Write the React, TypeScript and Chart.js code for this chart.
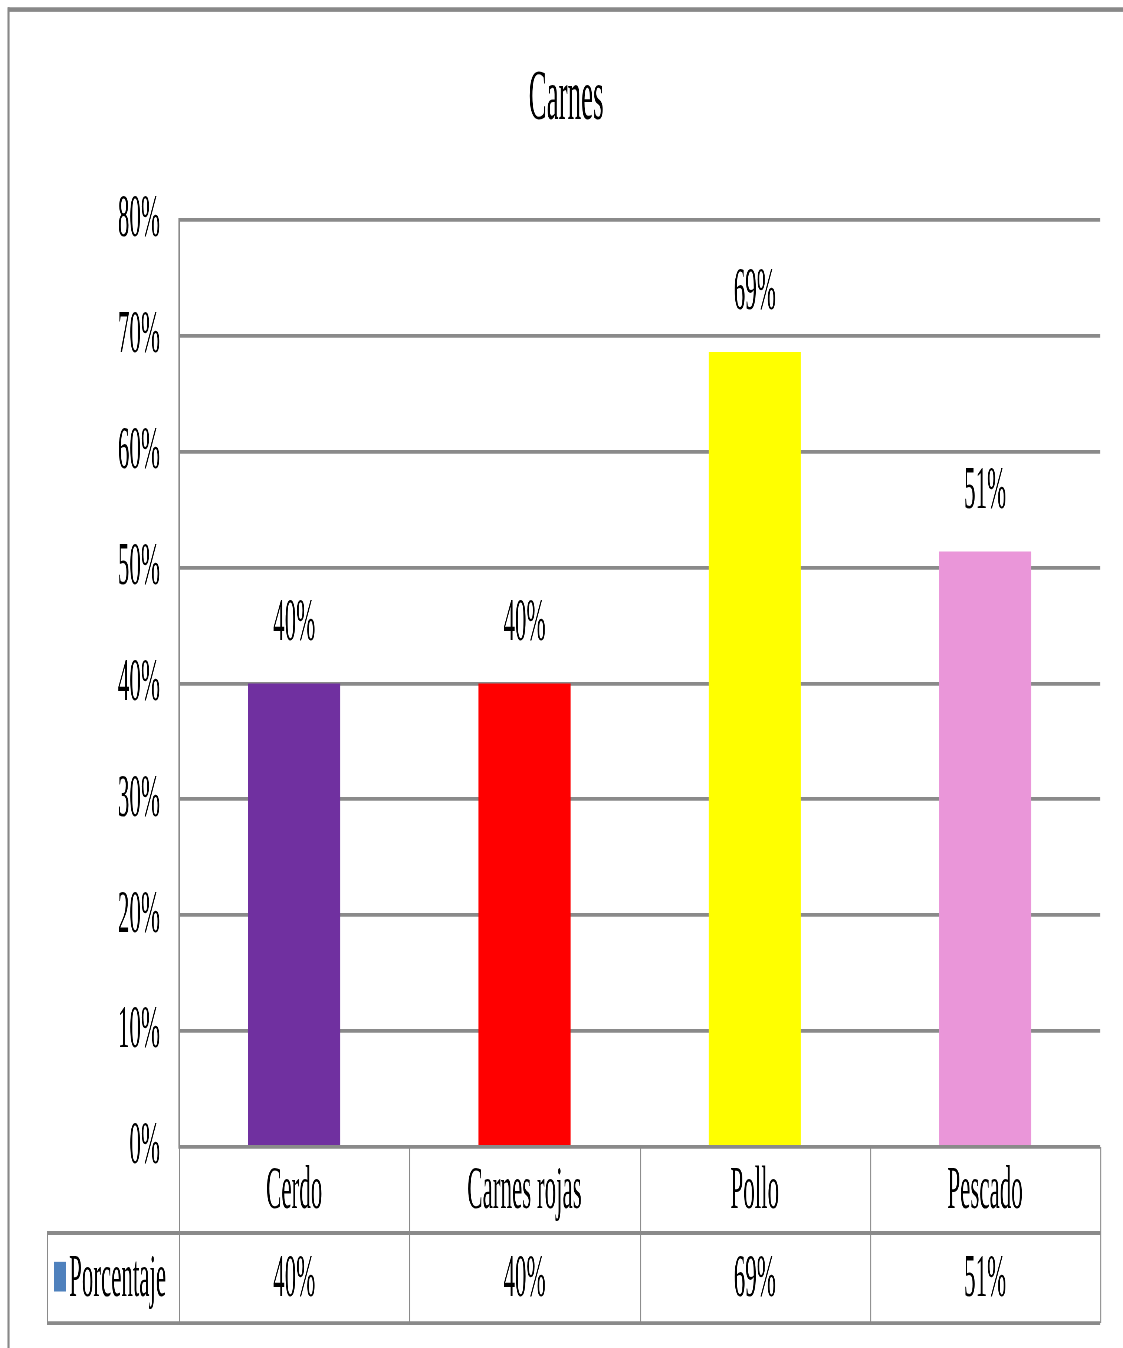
import React, { useEffect, useRef } from "react";
import { Chart, registerables } from "chart.js";

Chart.register(...registerables);

// ---- data ----
const chartTitle = "Carnes";
const seriesName = "Porcentaje";
const categories = ["Cerdo", "Carnes rojas", "Pollo", "Pescado"];
const porcentaje = [0.4, 0.4, 0.686, 0.514];
const barColors = ["#7030a0", "#ff0000", "#ffff00", "#ea96d9"];
const legendKeyColor = "#4f81bd";

// ---- layout / style ----
const W = 1123;
const PAGE_H = 1348;
const H = 500;
const S = PAGE_H / H;
const FONT = "'Liberation Serif', 'Times New Roman', serif";
const GRID = "#8a8a8a";

const pct = (v: number) => Math.round(v * 100) + "%";

const frameAndTablePlugin = {
  id: "frameAndTable",
  afterDraw(chart: any) {
    const { ctx, chartArea, scales } = chart;
    const xs = scales.x;
    const n = categories.length;
    const colW = (chartArea.right - chartArea.left) / n;
    const top = chartArea.bottom;
    const r1 = top + 31.9;
    const r2 = top + 65.3;
    const legendLeft = 47;

    ctx.save();
    // frame
    ctx.fillStyle = "#888888";
    ctx.fillRect(8, 2.7, W - 8, 1.7);
    ctx.fillRect(7.5, 2.7, 2, H);

    // table lines
    ctx.strokeStyle = GRID;
    ctx.lineWidth = 1.4;
    ctx.beginPath();
    ctx.moveTo(legendLeft, r1);
    ctx.lineTo(chartArea.right, r1);
    ctx.moveTo(legendLeft, r2);
    ctx.lineTo(chartArea.right, r2);
    ctx.stroke();

    ctx.lineWidth = 1;
    ctx.beginPath();
    for (let i = 0; i <= n; i++) {
      const x = Math.round(chartArea.left + i * colW) + 0.5;
      ctx.moveTo(x, top);
      ctx.lineTo(x, r2);
    }
    ctx.moveTo(legendLeft + 0.5, r1);
    ctx.lineTo(legendLeft + 0.5, r2);
    ctx.stroke();

    // texts
    ctx.fillStyle = "#000";
    ctx.font = `23px ${FONT}`;
    ctx.textBaseline = "middle";
    ctx.textAlign = "center";
    const m1 = (top + r1) / 2 + 0.5;
    const m2 = (r1 + r2) / 2 + 0.5;
    categories.forEach((c, i) => {
      const cx = xs.getPixelForValue(i);
      ctx.fillText(c, cx, m1);
      ctx.fillText(pct(porcentaje[i]), cx, m2);
    });

    // legend key
    ctx.fillStyle = legendKeyColor;
    ctx.fillRect(54, m2 - 6.5, 12, 11);
    ctx.fillStyle = "#000";
    ctx.textAlign = "left";
    ctx.fillText(seriesName, 69, m2);
    ctx.restore();
  },
};

const dataLabelPlugin = {
  id: "dataLabels",
  afterDatasetsDraw(chart: any) {
    const { ctx } = chart;
    const meta = chart.getDatasetMeta(0);
    ctx.save();
    ctx.fillStyle = "#000";
    ctx.font = `23px ${FONT}`;
    ctx.textAlign = "center";
    ctx.textBaseline = "alphabetic";
    meta.data.forEach((bar: any, i: number) => {
      ctx.fillText(pct(porcentaje[i]), bar.x, bar.y - 16);
    });
    ctx.restore();
  },
};

export default function App() {
  const ref = useRef<HTMLCanvasElement | null>(null);

  useEffect(() => {
    if (!ref.current) return;
    const chart = new Chart(ref.current, {
      type: "bar",
      data: {
        labels: categories,
        datasets: [
          {
            label: seriesName,
            data: porcentaje,
            backgroundColor: barColors,
            borderWidth: 0,
            barPercentage: 0.4,
            categoryPercentage: 1,
          },
        ],
      },
      options: {
        responsive: false,
        animation: false,
        devicePixelRatio: S,
        layout: { padding: { top: 0, right: 0, bottom: H - 1147 / S, left: 9 } },
        plugins: {
          legend: { display: false },
          tooltip: { enabled: false },
          title: {
            display: true,
            text: chartTitle,
            color: "#000",
            font: { family: FONT, size: 27, weight: "normal" },
            padding: { top: 21, bottom: 220 / S - 21 - 27 * 1.2 },
          },
        },
        scales: {
          x: { display: false },
          y: {
            min: 0,
            max: 0.8,
            ticks: {
              stepSize: 0.1,
              color: "#000",
              padding: 19,
              font: { family: FONT, size: 23 },
              callback: (v: any) => pct(Number(v)),
            },
            grid: { color: GRID, lineWidth: 1.4, drawTicks: false },
            border: { display: true, color: GRID, width: 1.5 },
            afterFit: (scale: any) => {
              scale.width = 170;
            },
          },
          yRight: {
            type: "linear",
            position: "right",
            min: 0,
            max: 0.8,
            ticks: { display: false },
            grid: { display: false, drawTicks: false },
            border: { display: false },
            afterFit: (scale: any) => {
              scale.width = 23;
            },
          },
        },
      },
      plugins: [dataLabelPlugin, frameAndTablePlugin],
    });
    return () => chart.destroy();
  }, []);

  return (
    <div
      style={{
        position: "absolute",
        left: 0,
        top: 0,
        width: W,
        height: PAGE_H,
        overflow: "hidden",
        background: "#fff",
      }}
    >
      <div
        style={{
          width: W,
          height: H,
          transform: `scaleY(${S})`,
          transformOrigin: "0 0",
        }}
      >
        <canvas
          ref={ref}
          width={W}
          height={H}
          style={{ width: W + "px", height: H + "px", display: "block" }}
        />
      </div>
    </div>
  );
}
